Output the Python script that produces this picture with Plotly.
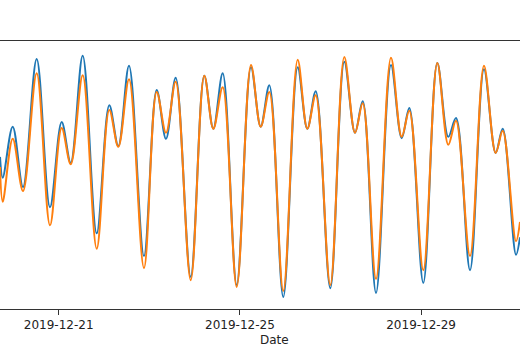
import plotly.graph_objects as go

times = [
    "2019-12-19 16:54", "2019-12-19 18:20", "2019-12-19 23:38", "2019-12-20 05:05",
    "2019-12-20 12:20", "2019-12-20 19:23", "2019-12-21 01:35", "2019-12-21 06:22",
    "2019-12-21 12:43", "2019-12-21 20:08", "2019-12-22 02:49", "2019-12-22 07:35",
    "2019-12-22 13:15", "2019-12-22 21:11", "2019-12-23 03:55", "2019-12-23 08:51",
    "2019-12-23 13:59", "2019-12-23 21:56", "2019-12-24 05:08", "2019-12-24 09:55",
    "2019-12-24 14:53", "2019-12-24 22:18", "2019-12-25 05:53", "2019-12-25 11:01",
    "2019-12-25 15:35", "2019-12-25 22:59", "2019-12-26 06:37", "2019-12-26 11:43",
    "2019-12-26 16:10", "2019-12-26 23:53", "2019-12-27 07:19", "2019-12-27 12:59",
    "2019-12-27 17:04", "2019-12-28 00:07", "2019-12-28 08:03", "2019-12-28 13:43",
    "2019-12-28 17:45", "2019-12-29 01:10", "2019-12-29 08:35", "2019-12-29 14:25",
    "2019-12-29 18:29", "2019-12-30 01:55", "2019-12-30 09:19", "2019-12-30 15:31",
    "2019-12-30 19:14", "2019-12-31 02:17", "2019-12-31 04:24",
]

observed = [
    2.27, 1.96, 2.72, 1.82, 3.73, 1.52, 2.79, 2.18, 3.78, 1.13,
    3.04, 2.43, 3.63, 0.79, 3.27, 2.54, 3.45, 0.48, 3.48, 2.69,
    3.52, 0.36, 3.61, 2.72, 3.34, 0.18, 3.61, 2.69, 3.25, 0.31,
    3.69, 2.63, 3.10, 0.24, 3.64, 2.55, 3.00, 0.39, 3.67, 2.57,
    2.85, 0.58, 3.58, 2.33, 2.69, 0.81, 1.07,
]

predicted = [
    2.12, 1.60, 2.54, 1.76, 3.52, 1.25, 2.70, 2.16, 3.49, 0.90,
    2.97, 2.42, 3.43, 0.61, 3.24, 2.63, 3.39, 0.43, 3.48, 2.69,
    3.31, 0.33, 3.64, 2.72, 3.24, 0.27, 3.72, 2.69, 3.19, 0.36,
    3.76, 2.63, 3.07, 0.45, 3.75, 2.57, 2.96, 0.58, 3.67, 2.45,
    2.81, 0.79, 3.63, 2.33, 2.66, 1.01, 1.30,
]

tick_vals = ["2019-12-21", "2019-12-25", "2019-12-29"]
x_range = ["2019-12-19 16:54", "2019-12-31 04:24"]

fig = go.Figure()
fig.add_trace(go.Scatter(x=times, y=observed, mode="lines",
                         line=dict(color="#1f77b4", width=2, shape="spline"),
                         name="observed"))
fig.add_trace(go.Scatter(x=times, y=predicted, mode="lines",
                         line=dict(color="#ff7f0e", width=2, shape="spline"),
                         name="predicted"))

fig.update_layout(
    width=520, height=347,
    margin=dict(l=0, r=0, t=41, b=38),
    paper_bgcolor="white", plot_bgcolor="white",
    showlegend=False,
    font=dict(family="DejaVu Sans", size=12, color="#222"),
    xaxis=dict(
        range=x_range, type="date",
        tickvals=tick_vals, ticktext=tick_vals,
        showgrid=False, zeroline=False, automargin=False,
        showline=True, linecolor="#333", linewidth=1, mirror=True,
        ticks="outside", ticklen=5, tickcolor="#333", tickwidth=1,
        tickfont=dict(family="DejaVu Sans", size=12, color="#222"),
    ),
    yaxis=dict(range=[0, 4], visible=False, showgrid=False, zeroline=False),
    annotations=[dict(text="Date", xref="paper", yref="paper",
                      x=274 / 520, y=-31 / 268, xanchor="center", yanchor="middle",
                      showarrow=False,
                      font=dict(family="DejaVu Sans", size=12, color="#222"))],
)

fig.write_html("out.html",
               config={"displayModeBar": False},
               post_script="document.body.style.margin='0';document.body.style.overflow='hidden';")
